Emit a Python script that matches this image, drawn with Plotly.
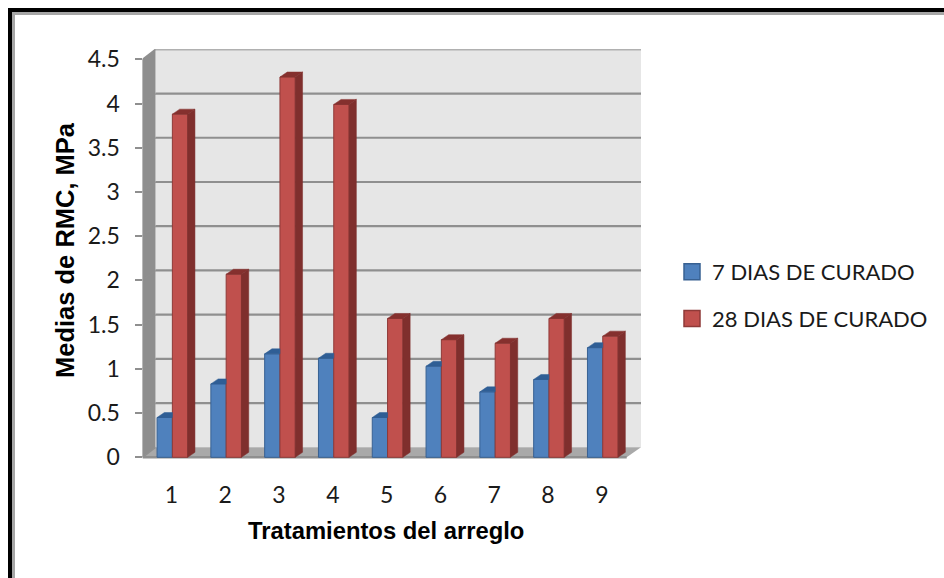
import plotly.graph_objects as go

categories = ["1", "2", "3", "4", "5", "6", "7", "8", "9"]
dias_7 = [0.45, 0.83, 1.17, 1.12, 0.45, 1.03, 0.74, 0.88, 1.24]
dias_28 = [3.88, 2.07, 4.30, 3.99, 1.57, 1.33, 1.29, 1.57, 1.37]
y_ticks = [0, 0.5, 1, 1.5, 2, 2.5, 3, 3.5, 4, 4.5]
y_labels = ["0", "0.5", "1", "1.5", "2", "2.5", "3", "3.5", "4", "4.5"]
series_names = ["7 DIAS DE CURADO", "28 DIAS DE CURADO"]

W, H = 944, 578
PX_X = 53.8          # pixels per category
PX_Y = 88.44         # pixels per unit
X0_PX, Y0_PX = 142.5, 457.3
RIGHT_PX, TOP_PX, BOTTOM_PX = 641.0, 49.0, 461.7
WALL_DX, WALL_DY = 13 / PX_X, 10 / PX_Y
BAR_DX, BAR_DY = 7.3 / PX_X, 5 / PX_Y
BAR_W = 15.3 / PX_X
BAR_SHIFT = 0.055

FONT = "Lato, 'Open Sans', sans-serif"
TITLE_FONT = "'Liberation Sans', Arial, sans-serif"
GRID = "#8f8f8f"

xs = list(range(1, len(categories) + 1))
x_lo = 0.5
x_hi = x_lo + (RIGHT_PX - X0_PX) / PX_X
x_front_hi = x_lo + len(categories)
y_lo = -(BOTTOM_PX - Y0_PX) / PX_Y
y_hi = (Y0_PX - TOP_PX) / PX_Y


def poly(xp, yp):
    return "M" + "L".join(f"{a},{b}" for a, b in zip(xp, yp)) + "Z"


shapes = []


def data_poly(xp, yp, fill, line=None, lw=0):
    shapes.append(dict(type="path", path=poly(xp, yp), xref="x", yref="y", layer="below",
                       fillcolor=fill, line=dict(color=line or fill, width=lw)))


# back wall, side wall, floor
data_poly([x_lo + WALL_DX, x_hi, x_hi, x_lo + WALL_DX],
          [WALL_DY, WALL_DY, y_hi, y_hi], "#e6e6e6")
data_poly([x_lo, x_lo + WALL_DX, x_lo + WALL_DX, x_lo],
          [0, WALL_DY, 4.5 + WALL_DY, 4.5], "#8e8e8e")
data_poly([x_lo, x_front_hi, x_hi, x_lo + WALL_DX],
          [0, 0, WALL_DY, WALL_DY], "#a9a9a9")
# grid lines on the walls
for t in y_ticks:
    if t > 0:
        shapes.append(dict(type="line", xref="x", yref="y", layer="below",
                           x0=x_lo + WALL_DX, x1=x_hi, y0=t + WALL_DY, y1=t + WALL_DY,
                           line=dict(color=GRID if t < 4.5 else "#b0b0b0", width=2.2)))
    shapes.append(dict(type="line", xref="x", yref="y", layer="below",
                       x0=x_lo, x1=x_lo + WALL_DX, y0=t, y1=t + WALL_DY,
                       line=dict(color=GRID, width=1.5)))
# front axis edges
shapes.append(dict(type="line", xref="x", yref="y", layer="below", x0=x_lo, x1=x_lo, y0=0, y1=4.5,
                   line=dict(color=GRID, width=2)))
shapes.append(dict(type="line", xref="x", yref="y", layer="below", x0=x_lo, x1=x_front_hi, y0=0, y1=0,
                   line=dict(color=GRID, width=2.5)))


# picture frame, drawn in paper fractions (margins are zero)
def frame(x0, y0, x1, y1, color):
    shapes.append(dict(type="rect", xref="paper", yref="paper", layer="above", line_width=0,
                       x0=x0 / W, x1=x1 / W, y0=1 - y0 / H, y1=1 - y1 / H, fillcolor=color))


frame(12, 12, W, 15, "#a6a6a6")
frame(12, 12, 15, H, "#a6a6a6")
frame(8, 8, W, 12, "#000000")
frame(8, 8, 12, H, "#000000")

fig = go.Figure()

BLUE, BLUE_LINE, BLUE_TOP = "#4f81bd", "#386192", "#2f5e95"
RED, RED_LINE, RED_SIDE, RED_TOP = "#c0504d", "#8f3a38", "#7f2f2d", "#85302e"

fig.add_bar(x=xs, y=dias_7, width=BAR_W, offset=BAR_SHIFT - BAR_W, showlegend=False,
            marker=dict(color=BLUE, line=dict(color=BLUE_LINE, width=1)))
fig.add_bar(x=xs, y=dias_28, width=BAR_W, offset=BAR_SHIFT, showlegend=False,
            marker=dict(color=RED, line=dict(color=RED_LINE, width=1)))


def face(xp, yp, color):
    fig.add_scatter(x=xp, y=yp, mode="lines", fill="toself", fillcolor=color,
                    line=dict(color=color, width=0.5), showlegend=False, hoverinfo="skip")


for c, b, r in zip(xs, dias_7, dias_28):
    l_blue = c + BAR_SHIFT - BAR_W
    mid = c + BAR_SHIFT
    right = mid + BAR_W
    # blue top, cut where the red bar hides it
    face([l_blue, mid, mid, l_blue + BAR_DX, l_blue],
         [b, b, b + BAR_DY, b + BAR_DY, b], BLUE_TOP)
    # red top and side
    face([mid, right, right + BAR_DX, mid + BAR_DX, mid],
         [r, r, r + BAR_DY, r + BAR_DY, r], RED_TOP)
    face([right, right + BAR_DX, right + BAR_DX, right, right],
         [0, BAR_DY, r + BAR_DY, r, 0], RED_SIDE)

# legend entries
for name, col, ln in zip(series_names, [BLUE, RED], [BLUE_LINE, RED_LINE]):
    fig.add_scatter(x=[None], y=[None], mode="markers", name=name, legendgroup=name,
                    marker=dict(symbol="square", size=16, color=col, line=dict(color=ln, width=1.5)))

fig.update_layout(
    width=W, height=H, autosize=False,
    margin=dict(l=0, r=0, t=0, b=0, pad=0),
    paper_bgcolor="white", plot_bgcolor="white",
    barmode="overlay",
    shapes=shapes,
    font=dict(family=FONT, color="#1a1a1a"),
    xaxis=dict(domain=[X0_PX / W, RIGHT_PX / W], range=[x_lo, x_hi], tickmode="array",
               tickvals=xs, ticktext=categories, showgrid=False, zeroline=False, showline=False,
               ticks="", ticklabelstandoff=17, ticklabelshift=2,
               tickfont=dict(size=23, family=FONT, color="#1a1a1a"), automargin=False),
    yaxis=dict(domain=[1 - BOTTOM_PX / H, 1 - TOP_PX / H], range=[y_lo, y_hi], tickmode="array",
               tickvals=y_ticks, ticktext=y_labels, showgrid=False, zeroline=False, showline=False,
               ticks="outside", ticklen=7, tickwidth=2, tickcolor=GRID, ticklabelstandoff=10,
               tickfont=dict(size=23, family=FONT, color="#1a1a1a"), automargin=False),
    legend=dict(x=672 / W, y=1 - 251 / H, xanchor="left", yanchor="top", tracegroupgap=15,
                font=dict(size=22, family=FONT, color="#1a1a1a"), bgcolor="rgba(0,0,0,0)",
                traceorder="grouped"),
    annotations=[
        dict(text="<b>Tratamientos del arreglo</b>", xref="paper", yref="paper",
             x=386 / W, y=1 - 530 / H, showarrow=False, xanchor="center", yanchor="middle",
             font=dict(size=23.8, family=TITLE_FONT, color="#000000")),
        dict(text="<b>Medias de RMC, MPa</b>", xref="paper", yref="paper", textangle=-90,
             x=65 / W, y=1 - 250 / H, showarrow=False, xanchor="center", yanchor="middle",
             font=dict(size=25.5, family=TITLE_FONT, color="#000000")),
    ],
)

fig.write_html("out.html", config=dict(displayModeBar=False),
               post_script="document.body.style.margin='0';")
